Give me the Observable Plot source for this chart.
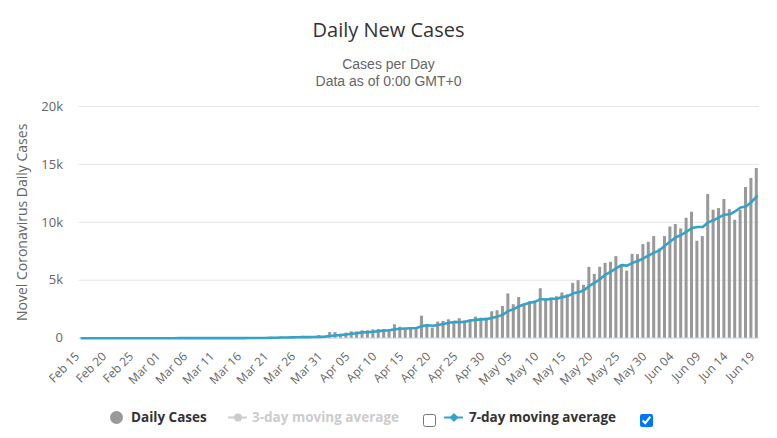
<!DOCTYPE html>
<html>
<head>
<meta charset="utf-8">
<script src="https://cdn.jsdelivr.net/npm/d3@7"></script>
<script src="https://cdn.jsdelivr.net/npm/@observablehq/plot@0.6"></script>
<style>
  body { margin: 0; background: #fff; font-family: "Open Sans", sans-serif; }
  #wrap { position: relative; width: 777px; height: 438px; overflow: hidden; }
  .head { position: absolute; left: 0; width: 777px; text-align: center; white-space: nowrap; }
  #title { top: 17px; font-size: 20px; line-height: 26px; color: #333; }
  #sub1, #sub2 { font-family: "Liberation Sans", Arial, sans-serif; font-size: 14px; line-height: 16px; color: #666; }
  #sub1 { top: 56px; }
  #sub2 { top: 73px; }
  #chart { position: absolute; left: 0; top: 90px; }
  .leg { position: absolute; top: 408px; font-size: 13.5px; line-height: 18px; font-weight: bold; white-space: nowrap; }
  .icon { position: absolute; }
  input[type=checkbox] { position: absolute; margin: 0; width: 13px; height: 13px; }
</style>
</head>
<body>
<div id="wrap">
  <div class="head" id="title">Daily New Cases</div>
  <div class="head" id="sub1">Cases per Day</div>
  <div class="head" id="sub2">Data as of 0:00 GMT+0</div>
  <div id="chart"></div>

  <svg class="icon" style="left:108px;top:408px" width="18" height="18"><circle cx="8.5" cy="9.5" r="6.5" fill="#999"></circle></svg>
  <div class="leg" style="left:131px;color:#333">Daily Cases</div>

  <svg class="icon" style="left:226px;top:408px" width="24" height="18"><line x1="2" x2="21" y1="9.5" y2="9.5" stroke="#ccc" stroke-width="2"></line><circle cx="12" cy="9.5" r="4" fill="#ccc"></circle></svg>
  <div class="leg" style="left:252px;color:#ccc">3-day moving average</div>
  <input type="checkbox" style="left:423px;top:414px">

  <svg class="icon" style="left:442px;top:408px" width="24" height="18"><line x1="2" x2="21" y1="9.5" y2="9.5" stroke="#35a2c8" stroke-width="2"></line><path d="M12,5 L16.5,9.5 L12,14 L7.5,9.5 Z" fill="#35a2c8"></path></svg>
  <div class="leg" style="left:469px;color:#333">7-day moving average</div>
  <input type="checkbox" checked style="left:640px;top:414px">
</div>
<script>
// Daily new cases, one value per day starting Feb 15, 2020
const startDate = "2020-02-15";
const dailyCases = [
  0, 0, 0, 0, 0, 0, 0, 0, 0, 0, 0, 0, 0, 0, 0,            // Feb 15 – Feb 29
  0, 2, 1, 23, 2, 1, 3, 5, 4, 12, 6, 11, 9, 20, 11,        // Mar 01 – Mar 15
  6, 23, 14, 38, 50, 86, 66, 103, 37, 121, 70, 160, 100, 112, 227, 146, // Mar 16 – Mar 31
  490, 490, 350, 440, 550, 550, 640, 640, 720, 750, 750, 720, 1160, 950, 780, // Apr 01 – Apr 15
  900, 900, 1900, 1190, 870, 1390, 1450, 1590, 1450, 1680, 1500, 1590, 1820, 1730, 1730, // Apr 16 – Apr 30
  2280, 2370, 2740, 3820, 2890, 3510, 2940, 3150, 3060, 4270, 3410, 3460, 3580, 3900, 3750, // May 01 – May 15
  4730, 4960, 4560, 6120, 5510, 6120, 6460, 6550, 7040, 6350, 5800, 7240, 7210, 8080, 8280, 8770, // May 16 – May 31
  7700, 8770, 9600, 9810, 9430, 10350, 10870, 8370, 8770, 12400, 11050, 11190, 11970, 11100, 10180, // Jun 01 – Jun 15
  11050, 13010, 13790, 14650                                 // Jun 16 – Jun 19
];

// Axis ticks
const xTickLabels = ["Feb 15", "Feb 20", "Feb 25", "Mar 01", "Mar 06", "Mar 11", "Mar 16", "Mar 21", "Mar 26", "Mar 31",
  "Apr 05", "Apr 10", "Apr 15", "Apr 20", "Apr 25", "Apr 30", "May 05", "May 10", "May 15", "May 20",
  "May 25", "May 30", "Jun 04", "Jun 09", "Jun 14", "Jun 19"];
const yTicks = [0, 5000, 10000, 15000, 20000];

const start = new Date(startDate);
const data = dailyCases.map((cases, i) => ({date: d3.utcDay.offset(start, i), cases}));
const end = data[data.length - 1].date;
const parseTick = d3.utcParse("%b %d %Y");
const xTicks = xTickLabels.map(s => ({date: parseTick(s + " 2020"), label: s}));

const lineColor = "#35a2c8";

const chart = Plot.plot({
  width: 777,
  height: 300,
  marginLeft: 78.5,
  marginRight: 18,
  marginTop: 16,
  marginBottom: 52.3,
  style: {fontFamily: "'Open Sans', sans-serif", fontSize: "13px", color: "#666", background: "transparent", overflow: "visible"},
  x: {
    type: "utc",
    domain: [d3.utcHour.offset(start, -12), d3.utcHour.offset(end, 12)],
    axis: null
  },
  y: {
    domain: [0, 20000],
    ticks: yTicks,
    tickFormat: d => d === 0 ? "0" : d / 1000 + "k",
    tickSize: 0,
    tickPadding: 16,
    label: null
  },
  marks: [
    Plot.ruleY(yTicks.slice(1), {stroke: "#e6e6e6", strokeWidth: 1}),
    Plot.ruleY([0], {stroke: "#ccd6eb", strokeWidth: 1}),
    Plot.rectY(data, {
      x1: d => d3.utcHour.offset(d.date, -12),
      x2: d => d3.utcHour.offset(d.date, 12),
      y: "cases",
      fill: "#999",
      insetLeft: 1.2,
      insetRight: 1.2
    }),
    Plot.lineY(data, Plot.windowY({k: 7, anchor: "end", reduce: "mean", strict: false},
      {x: "date", y: "cases", stroke: lineColor, strokeWidth: 2.6})),
    // Date labels, slanted under the axis
    Plot.text(xTicks, {
      x: "date", text: "label", frameAnchor: "bottom",
      rotate: -45, textAnchor: "end", dx: -1.5, dy: 19,
      fontSize: 12, fill: "#666"
    }),
    // Y axis title
    Plot.text(["Novel Coronavirus Daily Cases"], {
      frameAnchor: "left", rotate: -90, textAnchor: "middle", dx: -56.5, fontSize: 14, fill: "#666"
    })
  ]
});

document.getElementById("chart").appendChild(chart);
</script>
</body>
</html>
